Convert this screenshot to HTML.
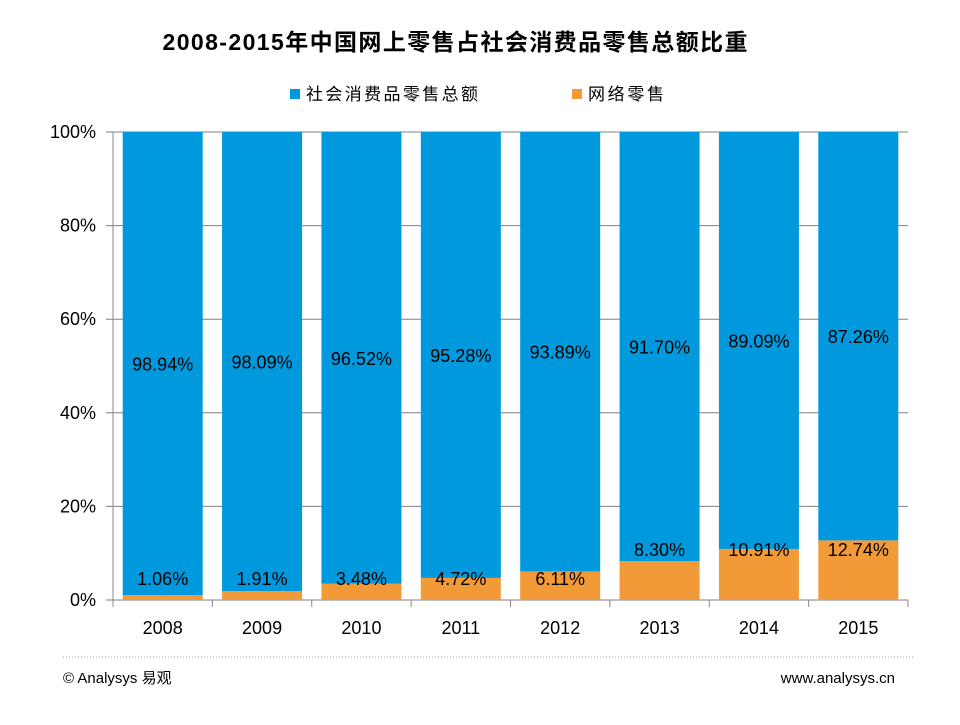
<!DOCTYPE html>
<html><head><meta charset="utf-8"><style>
body{margin:0;background:#fff;font-family:"Liberation Sans","Noto Sans CJK SC",sans-serif;}
</style></head><body>
<svg id="c" width="960" height="720" xmlns="http://www.w3.org/2000/svg" font-family="Liberation Sans, Noto Sans CJK SC, sans-serif">
<text x="455" y="50" text-anchor="middle" font-size="23" font-weight="bold" fill="#000" textLength="585">2008-2015年中国网上零售占社会消费品零售总额比重</text>
<g>
<rect x="290" y="89" width="10" height="10" fill="#0099dd"/>
<text x="306" y="100" font-size="17" textLength="172">社会消费品零售总额</text>
<rect x="572" y="89" width="10" height="10" fill="#f29a38"/>
<text x="588" y="100" font-size="17" textLength="76">网络零售</text>
</g>
<g id="plot"></g>
<line x1="63" y1="657" x2="915" y2="657" stroke="#999" stroke-dasharray="1,2"/>
<text x="63" y="683" font-size="15">© Analysys 易观</text>
<text x="895" y="683" font-size="15" text-anchor="end">www.analysys.cn</text>
</svg>
<script>
const categories=["2008","2009","2010","2011","2012","2013","2014","2015"];
const totalShare=[98.94,98.09,96.52,95.28,93.89,91.70,89.09,87.26];
const onlineShare=[1.06,1.91,3.48,4.72,6.11,8.30,10.91,12.74];
const yTicks=[0,20,40,60,80,100];
const X0=113,X1=908,Y0=600,Y1=132;
const bw=(X1-X0)/categories.length, barW=80;
const y=v=>Y0-(v/100)*(Y0-Y1);
const xc=i=>X0+bw*(i+0.5);
const NS="http://www.w3.org/2000/svg";
const g=document.getElementById('plot');
function mk(t,a,txt){const e=document.createElementNS(NS,t);for(const k in a)e.setAttribute(k,a[k]);if(txt!=null)e.textContent=txt;g.appendChild(e);return e;}
yTicks.forEach(v=>{
 const l=mk('line',{x1:X0-7,x2:X1,y1:y(v),y2:y(v),stroke:'#808080'});
 
 
 const t=mk('text',{x:96,y:y(v)+6,'text-anchor':'end','font-size':18},v+'%');
 
 
});
const ax=mk('line',{x1:X0,x2:X0,y1:Y1,y2:Y0+7,stroke:'#888'});


categories.forEach((c,i)=>{
 const xl=xc(i)-barW/2;
 const tk=mk('line',{x1:X0+bw*(i+1),x2:X0+bw*(i+1),y1:Y0,y2:Y0+7,stroke:'#888'});
 
 
 const o=mk('rect',{x:xl,y:y(onlineShare[i]),width:barW,height:Y0-y(onlineShare[i]),fill:'#f29a38'});
 
 
 const top=onlineShare[i]+totalShare[i];
 const b=mk('rect',{x:xl,y:y(top),width:barW,height:y(onlineShare[i])-y(top),fill:'#0099dd'});
 
 
 const bl=mk('text',{x:xc(i),y:(y(top)+y(onlineShare[i]))/2+7,'text-anchor':'middle','font-size':18},totalShare[i].toFixed(2)+'%');
 
 
 const oy=onlineShare[i]<7?585:556;
 const ol=mk('text',{x:xc(i),y:oy,'text-anchor':'middle','font-size':18},onlineShare[i].toFixed(2)+'%');
 
 
 const xl2=mk('text',{x:xc(i),y:634,'text-anchor':'middle','font-size':18},c);
 
 
});
</script>
</body></html>
